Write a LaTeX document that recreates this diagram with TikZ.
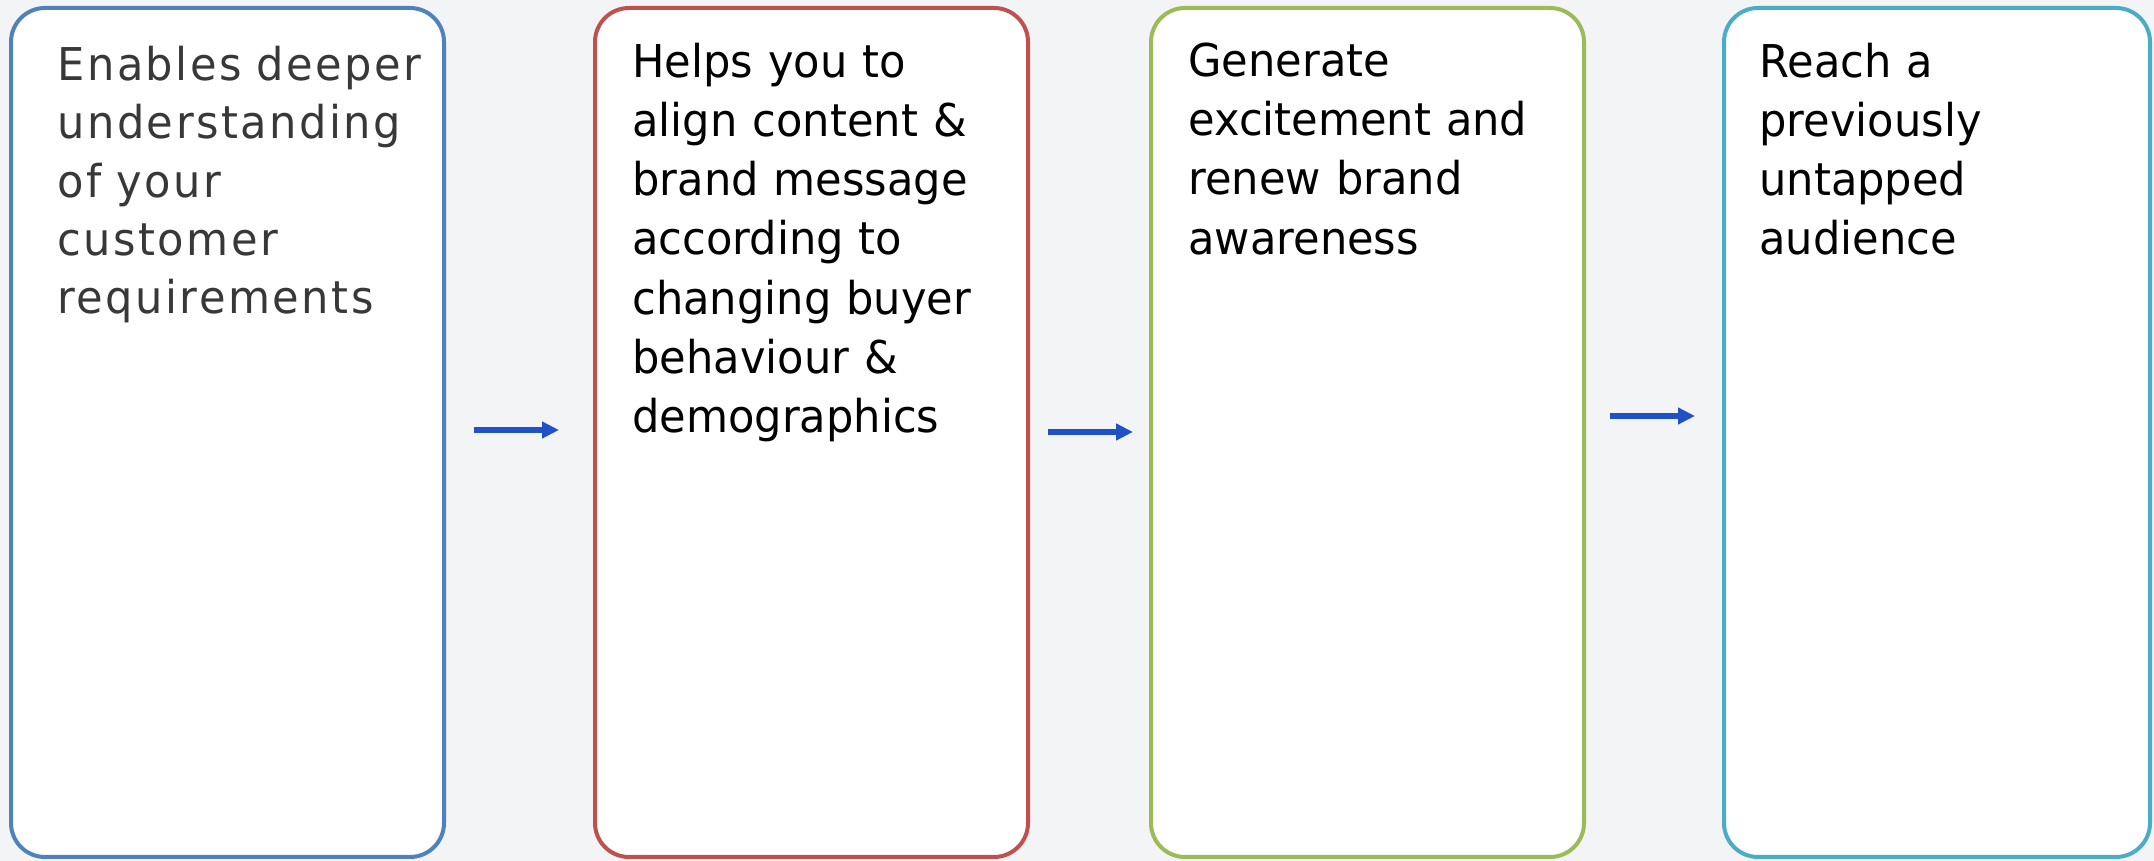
\documentclass[tikz,border=0pt]{standalone}
\usepackage{fontspec}
\usetikzlibrary{positioning,arrows.meta}
\newfontfamily\cardfont{DejaVu Sans}[FakeStretch=0.955]
\newfontfamily\cardfontwide{DejaVu Sans}[FakeStretch=0.955,LetterSpace=5.5]
\definecolor{pagebg}{HTML}{F3F4F6}
\definecolor{cardblue}{HTML}{4F81BD}
\definecolor{cardred}{HTML}{C0504D}
\definecolor{cardgreen}{HTML}{9BBB59}
\definecolor{cardteal}{HTML}{4BACC6}
\definecolor{arrowblue}{HTML}{2151C6}
\definecolor{textgray}{HTML}{383838}
\tikzset{
  card/.style={draw=#1, fill=white, line width=2pt, rounded corners=17pt,
    minimum width=216.5pt, minimum height=424.5pt, inner sep=0pt},
  cardtext/.style={inner sep=0pt, align=left, text width=210pt,
    font=\cardfont\fontsize{22.6}{29.6}\selectfont},
  flow/.style={draw=arrowblue, line width=3pt, -{Triangle[length=8.5pt,width=8pt]}}
}
\begin{document}
\begin{tikzpicture}[x=0.5pt,y=0.5pt]
\fill[pagebg] (0,0) rectangle (2154,861);
\useasboundingbox (0,0) rectangle (2154,861);
\node[card=cardblue] (c1) at (227.5,428.5) {};
\node[card=cardred] (c2) at (811.5,428.5) {};
\node[card=cardgreen] (c3) at (1367.5,428.5) {};
\node[card=cardteal, minimum width=213pt] (c4) at (1937,428.5) {};
\node[cardtext, text=textgray, font=\cardfontwide\fontsize{22.6}{29.2}\selectfont,
  below right=19.8pt and 24pt of c1.north west] (t1)
  {Enables deeper\\understanding\\of your\\customer\\requirements};
\node[cardtext, below right=18.3pt and 19.5pt of c2.north west] (t2)
  {Helps you to\\align content \&\\brand message\\according to\\changing buyer\\behaviour \&\\demographics};
\node[cardtext, below right=18.3pt and 19.5pt of c3.north west] (t3)
  {Generate\\excitement and\\renew brand\\awareness};
\node[cardtext, below right=18.3pt and 18.5pt of c4.north west] (t4)
  {Reach a\\previously\\untapped\\audience};
\coordinate (a1) at (474,431);
\coordinate (b1) at (559,431);
\coordinate (a2) at (1048,429);
\coordinate (b2) at (1133,429);
\coordinate (a3) at (1610,445);
\coordinate (b3) at (1695,445);
\draw[flow] (a1) -- (b1);
\draw[flow] (a2) -- (b2);
\draw[flow] (a3) -- (b3);
\end{tikzpicture}
\end{document}
